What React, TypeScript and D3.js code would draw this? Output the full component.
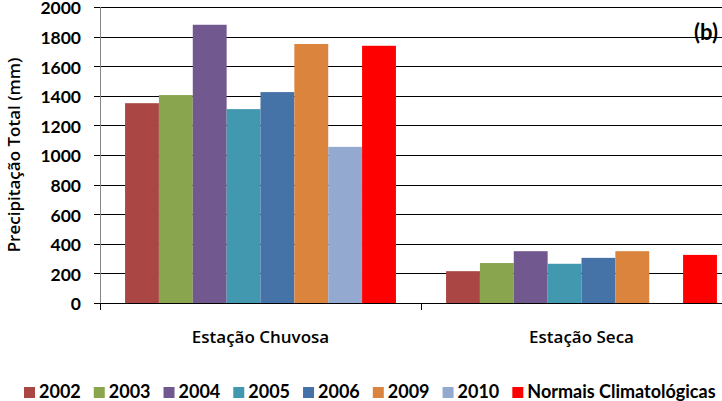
import React from "react";
import * as d3 from "d3";

const categories = ["Estação Chuvosa", "Estação Seca"];
const series = ["2002", "2003", "2004", "2005", "2006", "2009", "2010", "Normais Climatológicas"];
const chuvosa = [1350, 1405, 1880, 1310, 1425, 1750, 1055, 1738];
const seca: (number | null)[] = [215, 270, 350, 265, 305, 350, null, 325];
const colors = ["#AA4643", "#89A54E", "#71588F", "#4198AF", "#4572A7", "#DB843D", "#93A9CF", "#FF0000"];
const yTicks = [0, 200, 400, 600, 800, 1000, 1200, 1400, 1600, 1800, 2000];
const yTitle = "Precipitação Total (mm)";
const panelLabel = "(b)";

const W = 722;
const H = 401;
const FONT = "Lato, 'Open Sans', sans-serif";
const FONT2 = "'Open Sans', Lato, sans-serif";

function measure(text: string, font: string): number {
  const c = document.createElement("canvas");
  const ctx = c.getContext("2d")!;
  ctx.font = font;
  return ctx.measureText(text).width;
}

export default function App() {
  const left = 100;
  const right = 742;
  const top = 7;
  const bottom = 303;

  const x0 = d3.scaleBand<string>().domain(categories).range([left, right]).paddingInner(0).paddingOuter(0);
  const x1 = d3.scaleBand<string>().domain(series).range([0, x0.bandwidth()]).paddingInner(0).paddingOuter(0.74);
  const y = d3.scaleLinear().domain([0, 2000]).range([bottom, top]);

  const data = [chuvosa, seca];

  const legendFont = `bold 18px ${FONT}`;
  let lx = 24;
  const legendItems = series.map((s, i) => {
    const w = measure(s, legendFont);
    const item = { s, x: lx, color: colors[i] };
    lx += 11 + 4 + w + 13;
    return item;
  });

  return (
    <svg width={W} height={H} style={{ position: "absolute", left: 0, top: 0, background: "#fff" }} fontFamily={FONT}>
      {yTicks.filter((t) => t > 0).map((t) => (
        <line key={"g" + t} x1={left} x2={right} y1={Math.round(y(t)) + 0.5} y2={Math.round(y(t)) + 0.5} stroke="#000" strokeWidth={1} />
      ))}
      {categories.map((c, ci) => (
        <g key={c} transform={`translate(${x0(c)},0)`}>
          {series.map((s, si) => {
            const v = data[ci][si];
            if (v == null) return null;
            return (
              <rect key={s} x={x1(s)} y={y(v)} width={x1.bandwidth()} height={y(0) - y(v)} fill={colors[si]} />
            );
          })}
        </g>
      ))}
      <line x1={left + 0.5} x2={left + 0.5} y1={top} y2={bottom} stroke="#868686" strokeWidth={1} />
      {yTicks.map((t) => (
        <g key={"t" + t}>
          <line x1={94} x2={left} y1={Math.round(y(t)) + 0.5} y2={Math.round(y(t)) + 0.5} stroke="#000" />
          <text x={81} y={y(t)} dy="0.42em" textAnchor="end" fontSize={17.5} fontWeight="bold" fill="#000">
            {t}
          </text>
        </g>
      ))}
      <line x1={94} x2={right} y1={bottom + 0.5} y2={bottom + 0.5} stroke="#000" />
      {[...categories.map((c) => x0(c)!), right].map((xx, i) => (
        <line key={"ct" + i} x1={Math.round(xx) + 0.5} x2={Math.round(xx) + 0.5} y1={bottom} y2={bottom + 7} stroke="#000" />
      ))}
      {categories.map((c) => (
        <text key={"cl" + c} x={x0(c)! + x0.bandwidth() / 2} y={343} textAnchor="middle" fontSize={17} fontWeight={600} fontFamily={FONT2} fill="#000">
          {c}
        </text>
      ))}
      <text transform={`translate(20,155) rotate(-90)`} textAnchor="middle" fontSize={17} fontWeight={600} fontFamily={FONT2} fill="#000">
        {yTitle}
      </text>
      <text x={718} y={40} textAnchor="end" fontSize={22} fontWeight="bold" fill="#000">
        {panelLabel}
      </text>
      {legendItems.map((it) => (
        <g key={"l" + it.s}>
          <rect x={it.x} y={387} width={11} height={11} fill={it.color} />
          <text x={it.x + 15} y={398} fontSize={18} fontWeight="bold" fill="#000">
            {it.s}
          </text>
        </g>
      ))}
    </svg>
  );
}
